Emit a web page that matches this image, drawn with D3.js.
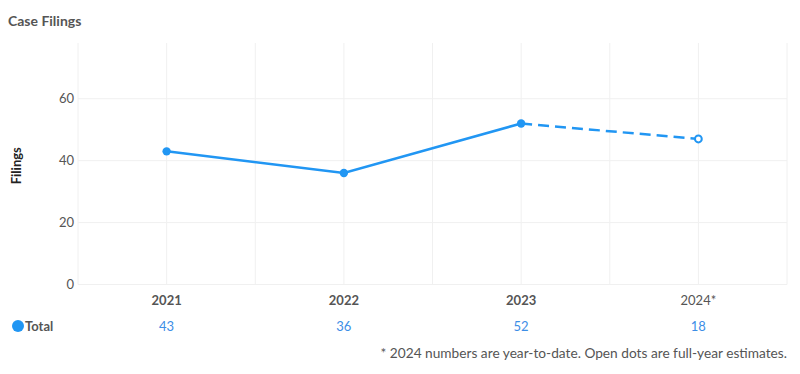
<!DOCTYPE html>
<html><head><meta charset="utf-8">
<script src="https://cdn.jsdelivr.net/npm/d3@7"></script>
<style>body{margin:0;background:#fff;font-family:Lato,sans-serif;}</style>
</head><body>
<svg id="c" width="800" height="374"></svg>
<script>
const years = ["2021","2022","2023","2024*"];
const actual = [43,36,52,null];
const estimate = [null,null,52,47];
const tableValues = [43,36,52,18];
const yTicks = [0,20,40,60];
const yMax = 78;
const title = "Case Filings";
const yLabel = "Filings";
const seriesName = "Total";
const footnote = "* 2024 numbers are year-to-date. Open dots are full-year estimates.";

const blue = "#2196f3";
const svg = d3.select("#c");
const L=78,R=787,T=43,B=284.5;
const x = d3.scaleBand().domain(years).range([L,R]);
const y = d3.scaleLinear().domain([0,yMax]).range([B,T]);
const cx = d => x(d)+x.bandwidth()/2;

svg.append("text").attr("x",8).attr("y",26).text(title)
  .attr("font-size",14).attr("font-weight","bold").attr("fill","#555");

// grid
const g = svg.append("g");
const vlines = [];
years.forEach(d=>{vlines.push(x(d)); vlines.push(cx(d));});
vlines.push(R);
g.selectAll("line.v").data(vlines).join("line")
  .attr("x1",d=>d).attr("x2",d=>d).attr("y1",T).attr("y2",B)
  .attr("stroke","#f0f0f0").attr("stroke-width",1);
g.selectAll("line.h").data(yTicks).join("line")
  .attr("x1",L).attr("x2",R).attr("y1",d=>y(d)).attr("y2",d=>y(d))
  .attr("stroke","#f0f0f0").attr("stroke-width",1);

// y axis
const ya = svg.append("g").attr("transform",`translate(${L},0)`)
  .call(d3.axisLeft(y).tickValues(yTicks).tickSize(0).tickPadding(4));
ya.select(".domain").remove();
ya.selectAll("text").attr("font-family","Lato,sans-serif").attr("font-size",13).attr("fill","#555");

svg.append("text").attr("transform",`translate(21,${(T+B)/2+2}) rotate(-90)`)
  .attr("text-anchor","middle").text(yLabel)
  .attr("font-size",13).attr("font-weight","bold").attr("fill","#222");

// x axis labels
const xa = svg.append("g").attr("transform",`translate(0,${B})`)
  .call(d3.axisBottom(x).tickSize(0).tickPadding(11));
xa.select(".domain").remove();
xa.selectAll("text").attr("font-family","Lato,sans-serif").attr("font-size",13)
  .attr("font-weight",d=>d.includes("*")?"normal":"bold").attr("fill","#555");

// lines
const line = d3.line().defined(d=>d[1]!=null).x(d=>cx(d[0])).y(d=>y(d[1]));
svg.append("path").datum(years.map((d,i)=>[d,actual[i]]))
  .attr("d",line).attr("fill","none").attr("stroke",blue).attr("stroke-width",2.5);
svg.append("path").datum(years.map((d,i)=>[d,estimate[i]]).filter(d=>d[1]!=null))
  .attr("d",line).attr("fill","none").attr("stroke",blue).attr("stroke-width",2.5)
  .attr("stroke-dasharray","11,6");

svg.selectAll("circle.a").data(years.map((d,i)=>[d,actual[i]]).filter(d=>d[1]!=null)).join("circle")
  .attr("cx",d=>cx(d[0])).attr("cy",d=>y(d[1])).attr("r",4.2).attr("fill",blue);
svg.selectAll("circle.e").data(years.map((d,i)=>[d,estimate[i]]).filter((d,i)=>d[1]!=null && actual[i]==null)).join("circle")
  .attr("cx",d=>cx(d[0])).attr("cy",d=>y(d[1])).attr("r",3.4).attr("fill","#fff")
  .attr("stroke",blue).attr("stroke-width",2);

// table row
svg.append("circle").attr("cx",18).attr("cy",326).attr("r",6).attr("fill",blue);
svg.append("text").attr("x",25).attr("y",331).text(seriesName)
  .attr("font-size",13).attr("font-weight","bold").attr("fill","#555");
svg.selectAll("text.v").data(tableValues).join("text")
  .attr("x",(d,i)=>cx(years[i])).attr("y",331).attr("text-anchor","middle")
  .text(d=>d).attr("font-size",13).attr("fill","#3d8ee6");

svg.append("text").attr("x",787).attr("y",358).attr("text-anchor","end")
  .text(footnote).attr("font-size",13.7).attr("fill","#555");
</script>
</body></html>
